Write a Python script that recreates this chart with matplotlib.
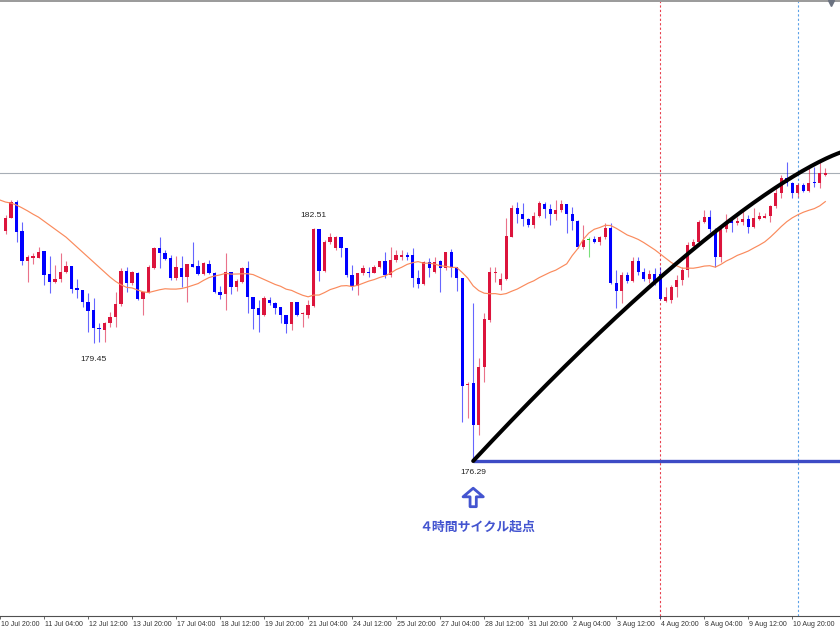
import numpy as np
import matplotlib
matplotlib.use("Agg")
import matplotlib.pyplot as plt
from matplotlib import font_manager
from matplotlib.transforms import offset_copy, ScaledTranslation, blended_transform_factory

# 4h candles, index 1..150 (index 0 = "10 Jul 20:00")
opens = [182.44, 182.79, 183.21, 182.44, 181.64, 181.72, 181.72, 181.90, 181.29, 181.08,
         181.16, 181.34, 181.50, 180.91, 180.86, 180.54, 180.33, 179.85, 179.79, 179.98,
         180.14, 180.49, 181.37, 181.05, 181.32, 180.62, 180.81, 181.45, 181.98, 181.85,
         181.72, 181.18, 181.45, 181.21, 181.56, 181.50, 181.29, 181.56, 181.32, 180.81,
         180.75, 181.34, 180.94, 181.08, 181.45, 180.67, 180.38, 180.19, 180.59, 180.51,
         180.41, 180.19, 179.95, 180.54, 180.22, 180.19, 180.43, 182.49, 181.37, 182.15,
         181.98, 182.28, 181.98, 181.26, 180.97, 181.32, 181.34, 181.32, 181.48, 181.64,
         181.26, 181.66, 181.74, 181.80, 181.80, 181.18, 181.02, 181.61, 181.34, 181.64,
         181.45, 181.88, 181.48, 181.18, 178.32, 178.38, 177.25, 178.80, 180.06, 181.32,
         181.00, 181.16, 182.28, 183.05, 182.89, 182.76, 182.60, 182.84, 183.16, 183.03,
         182.89, 183.00, 183.16, 182.89, 182.71, 182.01, 182.20, 182.23, 182.15, 182.28,
         182.52, 181.05, 180.83, 181.26, 181.10, 181.64, 181.34, 181.16, 181.29, 181.29,
         180.57, 180.59, 180.94, 181.13, 181.40, 182.04, 182.15, 182.68, 182.81, 182.47,
         181.74, 182.49, 182.79, 182.65, 182.68, 182.76, 182.55, 182.76, 182.79, 182.84,
         183.11, 183.46, 183.86, 183.72, 183.46, 183.67, 183.51, 183.75, 183.72, 183.94]
highs = [182.87, 183.27, 183.27, 182.68, 181.80, 181.85, 182.01, 181.91, 181.77, 181.53,
         181.85, 181.64, 181.51, 181.16, 180.87, 180.78, 180.65, 179.98, 180.01, 180.27,
         180.81, 181.45, 181.48, 181.37, 181.34, 180.82, 181.53, 182.01, 182.28, 181.93,
         181.80, 181.77, 181.77, 181.57, 182.15, 181.66, 181.61, 181.66, 181.34, 180.97,
         181.85, 181.35, 181.16, 181.48, 181.64, 180.68, 180.59, 180.70, 180.67, 180.54,
         180.42, 180.20, 180.55, 180.55, 180.27, 180.59, 182.51, 182.50, 182.20, 182.39,
         182.31, 182.29, 181.99, 181.53, 181.33, 181.53, 181.48, 181.53, 181.65, 181.88,
         182.01, 181.93, 181.93, 181.88, 181.98, 181.40, 181.64, 181.72, 181.74, 181.66,
         181.89, 181.96, 181.49, 181.19, 178.40, 180.51, 179.04, 180.25, 181.48, 181.48,
         181.32, 182.79, 183.13, 183.21, 183.19, 182.79, 182.95, 183.24, 183.21, 183.16,
         183.27, 183.27, 183.17, 183.08, 182.73, 182.60, 182.28, 182.31, 182.31, 182.65,
         182.65, 181.40, 181.34, 181.34, 181.74, 181.74, 181.45, 181.40, 181.45, 181.48,
         180.94, 181.00, 181.26, 181.48, 182.15, 182.23, 182.73, 183.00, 183.00, 182.52,
         182.53, 182.89, 182.81, 182.81, 183.03, 182.87, 183.05, 182.95, 182.92, 183.13,
         183.67, 183.94, 184.28, 183.75, 183.72, 183.72, 184.12, 184.15, 184.28, 184.12]
lows = [182.36, 182.78, 182.15, 181.53, 181.08, 181.56, 181.71, 181.00, 180.78, 181.06,
        181.08, 181.31, 180.78, 180.65, 180.41, 179.74, 179.45, 179.47, 179.47, 179.87,
        179.87, 180.43, 180.81, 181.00, 180.59, 180.19, 180.78, 181.42, 181.45, 181.66,
        181.13, 181.13, 180.94, 180.54, 181.47, 181.26, 181.26, 181.28, 180.78, 180.62,
        180.33, 180.75, 180.83, 181.05, 180.25, 179.82, 179.74, 180.17, 180.46, 180.22,
        179.98, 179.71, 179.79, 180.16, 179.87, 180.11, 180.42, 181.10, 181.34, 182.09,
        181.93, 181.74, 181.21, 180.86, 180.73, 181.26, 181.21, 181.31, 181.45, 181.18,
        181.21, 181.61, 181.66, 181.66, 180.94, 180.91, 181.00, 181.21, 181.32, 180.81,
        181.40, 181.21, 180.83, 177.33, 177.44, 176.29, 176.99, 178.40, 180.01, 181.08,
        180.86, 181.13, 182.27, 182.65, 182.57, 182.55, 182.52, 182.81, 182.79, 182.60,
        182.73, 182.95, 182.39, 182.47, 181.98, 181.96, 181.74, 182.12, 182.06, 182.23,
        181.02, 180.38, 180.51, 181.05, 181.08, 181.26, 181.10, 181.05, 181.00, 180.59,
        180.54, 180.51, 180.67, 181.00, 181.21, 181.98, 182.12, 182.65, 182.41, 181.48,
        181.61, 182.41, 182.41, 182.60, 182.60, 182.39, 182.52, 182.73, 182.78, 182.68,
        183.05, 183.32, 183.64, 183.32, 183.35, 183.48, 183.48, 183.62, 183.59, 183.91]
closes = [182.79, 183.21, 182.41, 181.64, 181.74, 181.77, 181.88, 181.26, 181.08, 181.16,
          181.34, 181.50, 180.89, 180.86, 180.54, 180.30, 179.85, 179.82, 179.98, 180.14,
          180.49, 181.37, 181.05, 181.34, 180.62, 180.81, 181.48, 181.98, 181.85, 181.69,
          181.18, 181.48, 181.21, 181.56, 181.48, 181.29, 181.58, 181.32, 180.81, 180.73,
          181.34, 180.94, 181.10, 181.45, 180.67, 180.35, 180.19, 180.65, 180.51, 180.38,
          180.19, 179.95, 180.54, 180.19, 180.25, 180.46, 182.49, 181.37, 182.15, 182.28,
          182.27, 181.98, 181.26, 180.97, 181.32, 181.45, 181.32, 181.48, 181.64, 181.26,
          181.66, 181.80, 181.79, 181.74, 181.18, 181.02, 181.61, 181.45, 181.61, 181.45,
          181.88, 181.48, 181.18, 178.30, 178.35, 177.25, 178.80, 180.09, 181.34, 181.34,
          181.16, 182.31, 183.05, 182.89, 182.76, 182.60, 182.84, 183.19, 183.03, 182.89,
          183.00, 183.16, 182.89, 182.71, 182.01, 182.20, 182.20, 182.15, 182.28, 182.52,
          181.05, 180.83, 181.26, 181.10, 181.64, 181.34, 181.16, 181.29, 181.10, 180.62,
          180.67, 180.94, 181.13, 181.40, 182.06, 182.15, 182.68, 182.81, 182.49, 181.74,
          182.49, 182.68, 182.65, 182.71, 182.76, 182.55, 182.79, 182.84, 182.84, 183.11,
          183.46, 183.86, 183.72, 183.46, 183.67, 183.51, 183.72, 183.72, 183.99, 183.99]
# closes before the visible window (index -19..0), needed by the 20-period MA
prior_closes = [183.86, 183.75, 183.48, 183.13, 183.35, 183.54, 183.48, 183.40, 183.21, 183.30,
                183.48, 183.64, 183.56, 183.54, 183.21, 182.97, 182.52, 182.49, 182.65, 182.79]
ma_period = 20

tick_index = list(range(0, 145, 8))
tick_labels = ["10 Jul 20:00", "11 Jul 04:00", "12 Jul 12:00", "13 Jul 20:00", "17 Jul 04:00",
               "18 Jul 12:00", "19 Jul 20:00", "21 Jul 04:00", "24 Jul 12:00", "25 Jul 20:00",
               "27 Jul 04:00", "28 Jul 12:00", "31 Jul 20:00", "2 Aug 04:00", "3 Aug 12:00",
               "4 Aug 20:00", "8 Aug 04:00", "9 Aug 12:00", "10 Aug 20:00"]

high_idx, low_idx, cycle_idx = 57, 17, 86      # labelled candles
cycle_top_idx, cycle_top_price = 154.5, 184.61  # top of the cycle curve
resistance = 183.99
red_vline, blue_vline = 120, 145
cycle_text = "４時間サイクル起点"

names = {f.name for f in font_manager.fontManager.ttflist}
small_font = "Liberation Sans Narrow" if "Liberation Sans Narrow" in names else "Liberation Sans"

BULL, BEAR, DOJI = "#DC143C", "#0000FF", "#22CC22"
NOTE_BLUE = "#4455D0"

fig = plt.figure(figsize=(8.4, 6.3), dpi=100)
ax = fig.add_axes([0, 14 / 630, 1, 615 / 630])
ax.set_xlim(0.633, 152.67)
ax.set_ylim(172.145, 188.59)

idx = np.arange(1, len(closes) + 1)
o = np.array(opens); h = np.array(highs); l = np.array(lows); c = np.array(closes)
cols = np.where(c > o, BULL, np.where(c < o, BEAR, DOJI))

ax.vlines(idx, l, h, colors=cols, lw=0.8, alpha=0.6, zorder=2)
body = np.maximum(np.abs(c - o), 0.02)
ax.bar(idx, body, bottom=np.minimum(o, c), width=0.6, color=cols, lw=0, zorder=3)

# 20 SMA
allc = np.array(prior_closes + closes)
ma = np.convolve(allc, np.ones(ma_period) / ma_period, mode="valid")
ax.plot(np.arange(0, len(ma)), ma, color="#FA8A5C", lw=0.85, zorder=4)

# objects
ax.axhline(resistance, color="#A7AEB6", lw=0.8, zorder=1)
ax.axvline(red_vline, color="#E8404E", lw=0.8, ls=(0, (2, 2)), zorder=1)
ax.axvline(blue_vline, color="#5AA0E8", lw=0.8, ls=(0, (2, 2)), zorder=1)

start_price = lows[cycle_idx - 1]
ax.hlines(start_price, cycle_idx, 160, color="#3D4BC5", lw=2.4, zorder=5)
t = np.linspace(0, 1, 300)
ax.plot(cycle_idx + t * (cycle_top_idx - cycle_idx),
        start_price + (cycle_top_price - start_price) * (1 - (1 - t) ** 1.3),
        color="black", lw=2.9, solid_capstyle="round", zorder=6)

# price labels
lab = dict(ha="center", va="center", fontsize=6.1, color="#222222", family="Liberation Sans",
           textcoords="offset points")
ax.annotate(f"{highs[high_idx - 1]:.2f}", xy=(high_idx, highs[high_idx - 1]), xytext=(0, 9.5), **lab)
ax.annotate(f"{lows[low_idx - 1]:.2f}", xy=(low_idx, lows[low_idx - 1]), xytext=(0, -12), **lab)
ax.annotate(f"{start_price:.2f}", xy=(cycle_idx, start_price), xytext=(0, -8.6), **lab)

# arrow + note
tip = offset_copy(ax.transData, fig=fig, x=0, y=-19.6, units="points")
ax.annotate("", xy=(cycle_idx, start_price), xycoords=tip, xytext=(0, -13.3),
            textcoords="offset points",
            arrowprops=dict(arrowstyle="simple,head_length=0.62,head_width=1.46,tail_width=0.45",
                            mutation_scale=10, fc="white", ec=NOTE_BLUE, lw=2.0,
                            shrinkA=0, shrinkB=0))
ax.annotate(cycle_text, xy=(cycle_idx, start_price), xytext=(3, -47.5), textcoords="offset points",
            ha="center", va="center", fontsize=9.3, fontweight="bold", color=NOTE_BLUE,
            family=["Noto Sans CJK JP", "DejaVu Sans"])

# chart shift marker
ax.plot([151.0], [0.996], marker="v", ms=4.5, color="#6B7280", lw=0,
        transform=blended_transform_factory(ax.transData, ax.transAxes), clip_on=False, zorder=7)

# axes styling
for s in ("left", "right"):
    ax.spines[s].set_visible(False)
ax.spines["top"].set_color("#9A9A9A")
ax.spines["top"].set_linewidth(1.4)
ax.spines["bottom"].set_color("#505050")
ax.spines["bottom"].set_linewidth(0.8)
ax.set_yticks([])
ax.set_xticks(tick_index, tick_labels)
ax.tick_params(axis="x", direction="out", length=2.2, width=0.6, color="#505050", pad=1.2,
               labelsize=5.0, labelcolor="#333333")
shift = ScaledTranslation(1.0 / 100, 0, fig.dpi_scale_trans)
for tl in ax.get_xticklabels():
    tl.set_ha("left")
    tl.set_family(small_font)
    tl.set_transform(tl.get_transform() + shift)

fig.savefig("out.png", dpi=100)
